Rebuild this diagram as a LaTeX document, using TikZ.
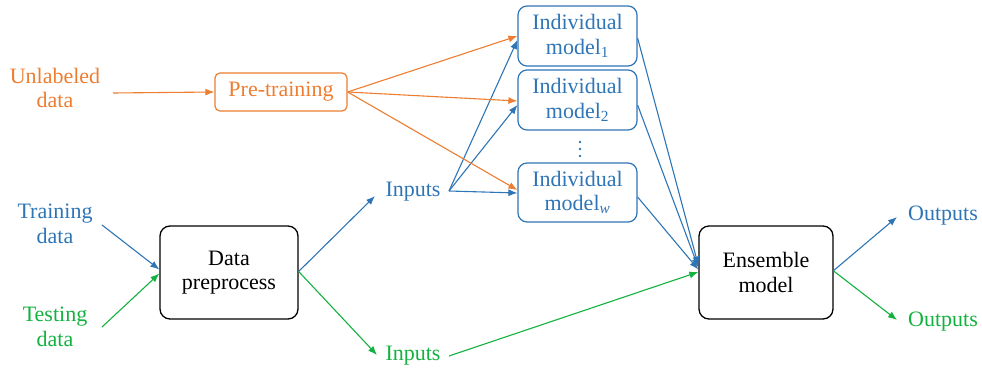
\documentclass[tikz,border=0pt]{standalone}
\usepackage{fontspec}
\setmainfont{Liberation Serif}
\usetikzlibrary{arrows.meta}
\definecolor{cblue}{HTML}{2E75B6}
\definecolor{corange}{HTML}{ED7D31}
\definecolor{cgreen}{HTML}{13B13F}
\begin{document}
\begin{tikzpicture}[x=1pt,y=-1pt,
  font=\fontsize{22}{24.5}\selectfont,
  lbl/.style={align=center, inner sep=0pt},
  bbox/.style={draw=black, line width=1.3pt, rounded corners=10pt, align=center, inner sep=0pt},
  mbox/.style={draw=cblue, text=cblue, line width=1.2pt, rounded corners=9pt, align=center, inner sep=0pt, minimum width=119pt},
  pbox/.style={draw=corange, text=corange, line width=1.2pt, rounded corners=5pt, align=center, inner sep=0pt, minimum width=132pt, minimum height=38pt},
  arr/.style={line width=1.1pt, -{Latex[length=9pt,width=7pt]}},
  barr/.style={arr, draw=cblue},
  oarr/.style={arr, draw=corange},
  garr/.style={arr, draw=cgreen},
  dot/.style={circle, fill=cblue, inner sep=0pt, minimum size=2.6pt},
]
\useasboundingbox (0,0) rectangle (982,377);

% text labels
\node[lbl, text=corange] (unl) at (55,88) {Unlabeled\\data};
\node[lbl, text=cblue] (train) at (55,224) {Training\\data};
\node[lbl, text=cgreen] (test) at (55,327) {Testing\\data};
\node[lbl, text=cblue] (inB) at (413,192) {Inputs};
\node[lbl, text=cgreen] (inG) at (413,356) {Inputs};
\node[lbl, text=cblue] (outB) at (943,216) {Outputs};
\node[lbl, text=cgreen] (outG) at (943,322) {Outputs};

% boxes
\node[pbox] (pre) at (281,92) {Pre-training};
\node[bbox, minimum width=138pt, minimum height=93pt] (dp) at (229,272.5) {Data\\preprocess};
\node[bbox, minimum width=134pt, minimum height=93pt] (ens) at (766,272.5) {Ensemble\\model};
\node[mbox, minimum height=60pt] (m1) at (577.5,36) {Individual\\model\textsubscript{1}};
\node[mbox, minimum height=60pt] (m2) at (577.5,100) {Individual\\model\textsubscript{2}};
\node[mbox, minimum height=59pt] (mw) at (577.5,192.5) {Individual\\model\textsubscript{\textit{w}}};
\node[dot] (d1) at (580,142) {};
\node[dot] (d2) at (580,149) {};
\node[dot] (d3) at (580,156) {};

% free ends
\coordinate (unlE) at (113,93);
\coordinate (trainE) at (102,225);
\coordinate (testE) at (102,327);
\coordinate (inBW) at (375,196);
\coordinate (inGW) at (377,355);
\coordinate (inBE) at (449,191);
\coordinate (inGE) at (449,356);
\coordinate (outBW) at (897,217);
\coordinate (outGW) at (897,320);

% connectors
\draw[oarr] (unlE) -- (pre.west);
\draw[barr] (trainE) -- ([yshift=3pt]dp.west);
\draw[garr] (testE) -- ([yshift=-1pt]dp.west);
\draw[barr] ([yshift=1pt]dp.east) -- (inBW);
\draw[garr] ([yshift=1pt]dp.east) -- (inGW);

\draw[barr] (inBE) -- ([yshift=-4pt]m1.west);
\draw[barr] (inBE) -- ([yshift=-5pt]m2.west);
\draw[barr] (inBE) -- ([yshift=-0.5pt]mw.west);
\draw[oarr] (pre.east) -- (m1.west);
\draw[oarr] (pre.east) -- ([yshift=-1pt]m2.west);
\draw[oarr] (pre.east) -- ([yshift=2.5pt]mw.west);

\draw[barr] ([yshift=-2pt]m1.east) -- ([yshift=7pt]ens.west);
\draw[barr] ([yshift=-5pt]m2.east) -- ([yshift=5pt]ens.west);
\draw[barr] ([yshift=-4.5pt]mw.east) -- ([yshift=3pt]ens.west);
\draw[garr] (inGE) -- ([yshift=0.5pt]ens.west);

\draw[barr] ([yshift=2pt]ens.east) -- (outBW);
\draw[garr] ([yshift=1.5pt]ens.east) -- (outGW);
\end{tikzpicture}
\end{document}
